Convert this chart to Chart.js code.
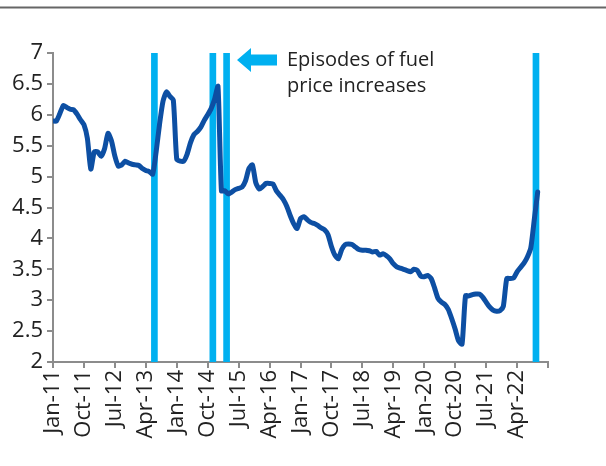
<!DOCTYPE html>
<html>
<head>
<meta charset="utf-8">
<script src="https://cdn.jsdelivr.net/npm/chart.js@4.4.0/dist/chart.umd.min.js"></script>
<style>
body { margin: 0; background: #fff; }
canvas { display: block; }
</style>
</head>
<body>
<canvas id="myChart" width="606" height="466"></canvas>
<script>
// x tick labels, one every 9 months starting Jan-11 (last tick has no label)
var tickLabels = ['Jan-11', 'Oct-11', 'Jul-12', 'Apr-13', 'Jan-14', 'Oct-14', 'Jul-15', 'Apr-16',
                  'Jan-17', 'Oct-17', 'Jul-18', 'Apr-19', 'Jan-20', 'Oct-20', 'Jul-21', 'Apr-22', ''];

// monthly series, Jan-11 .. Oct-22
var priceValues = [
  5.90, 5.90, 6.02, 6.15, 6.12, 6.09, 6.08, 6.01, 5.92, 5.84, 5.62, 5.12,
  5.40, 5.40, 5.33, 5.45, 5.70, 5.58, 5.33, 5.17, 5.19, 5.25, 5.22, 5.20,
  5.19, 5.18, 5.13, 5.10, 5.08, 5.04, 5.40, 5.85, 6.22, 6.37, 6.30, 6.24,
  5.28, 5.25, 5.25, 5.36, 5.55, 5.68, 5.73, 5.80, 5.91, 6.00, 6.10, 6.25,
  6.46, 4.77, 4.77, 4.72, 4.75, 4.79, 4.81, 4.83, 4.93, 5.13, 5.19, 4.90,
  4.80, 4.84, 4.89, 4.89, 4.88, 4.77, 4.70, 4.63, 4.52, 4.37, 4.24, 4.16,
  4.32, 4.35, 4.30, 4.26, 4.24, 4.21, 4.17, 4.14, 4.06, 3.87, 3.73, 3.67,
  3.82, 3.90, 3.91, 3.90, 3.86, 3.82, 3.81, 3.81, 3.80, 3.78, 3.79, 3.73,
  3.75, 3.72, 3.67, 3.59, 3.54, 3.52, 3.50, 3.48, 3.46, 3.50, 3.48, 3.39,
  3.38, 3.40, 3.35, 3.20, 3.03, 2.97, 2.93, 2.85, 2.70, 2.53, 2.34, 2.29,
  3.07, 3.07, 3.09, 3.10, 3.10, 3.05, 2.97, 2.89, 2.84, 2.82, 2.83, 2.90,
  3.35, 3.35, 3.36, 3.46, 3.53, 3.60, 3.70, 3.85, 4.30, 4.75
];

// episodes of fuel price increases, in months after Jan-11
var episodeMonths = [29.5, 46.5, 50.5, 140.5];

var legendLines = ['Episodes of fuel', 'price increases'];

var axisGrey = '#8c8c8c';
var textColor = '#222';
var fontFamily = "'Open Sans', sans-serif";

var lineData = priceValues.map(function (v, i) { return { x: i, y: v }; });
var barData = episodeMonths.map(function (m) { return { x: m, y: [2, 7] }; });

var decorPlugin = {
    id: 'decor',
    beforeDraw: function (chart) {
        var c = chart.ctx;
        c.save();
        c.strokeStyle = '#666';
        c.lineWidth = 2;
        c.beginPath();
        c.moveTo(0, 7.5);
        c.lineTo(chart.width, 7.5);
        c.stroke();
        c.restore();
    },
    afterDraw: function (chart) {
        var c = chart.ctx;
        c.save();
        // arrow
        c.fillStyle = '#00B0F0';
        c.beginPath();
        c.moveTo(237, 60);
        c.lineTo(251, 48);
        c.lineTo(251, 54.5);
        c.lineTo(277, 54.5);
        c.lineTo(277, 65.5);
        c.lineTo(251, 65.5);
        c.lineTo(251, 72);
        c.closePath();
        c.fill();
        // text
        c.fillStyle = textColor;
        c.font = '20px ' + fontFamily;
        c.textBaseline = 'alphabetic';
        c.fillText(legendLines[0], 287, 66);
        c.fillText(legendLines[1], 287, 92);
        c.restore();
    }
};

var ctx = document.getElementById('myChart').getContext('2d');

var graphData = {
    type: 'line',
    data: {
        datasets: [{
            type: 'line',
            data: lineData,
            borderColor: '#0D4FA3',
            borderWidth: 5,
            borderCapStyle: 'round',
            borderJoinStyle: 'round',
            pointRadius: 0,
            tension: 0.2,
            fill: false,
            order: 1
        }, {
            type: 'bar',
            data: barData,
            backgroundColor: '#00B0F0',
            borderWidth: 0,
            barThickness: 6,
            order: 2
        }]
    },
    options: {
        responsive: false,
        animation: false,
        layout: { padding: { top: 53, right: 58, left: 0, bottom: 0 } },
        plugins: {
            legend: { display: false },
            tooltip: { enabled: false }
        },
        scales: {
            x: {
                type: 'linear',
                min: 0,
                max: 144,
                offset: false,
                afterFit: function (s) { s.height = 104; },
                afterBuildTicks: function (s) {
                    s.ticks = tickLabels.map(function (t, i) { return { value: i * 9 }; });
                },
                border: { display: true, color: axisGrey, width: 2 },
                grid: { drawOnChartArea: false, drawTicks: true, tickLength: 6, color: axisGrey, lineWidth: 2, offset: false },
                ticks: {
                    autoSkip: false,
                    minRotation: 90,
                    maxRotation: 90,
                    padding: 2,
                    color: textColor,
                    font: { family: fontFamily, size: 22 },
                    callback: function (value) { return tickLabels[Math.round(value / 9)]; }
                }
            },
            y: {
                min: 2,
                max: 7,
                afterFit: function (s) { s.width = 53; },
                border: { display: true, color: axisGrey, width: 2 },
                grid: { drawOnChartArea: false, drawTicks: true, tickLength: 6, color: axisGrey, lineWidth: 2 },
                ticks: {
                    stepSize: 0.5,
                    padding: 4,
                    color: textColor,
                    font: { family: fontFamily, size: 22 },
                    callback: function (value) { return String(value); }
                }
            }
        }
    },
    plugins: [decorPlugin]
};

var myChart = new Chart(ctx, graphData);
</script>
</body>
</html>
